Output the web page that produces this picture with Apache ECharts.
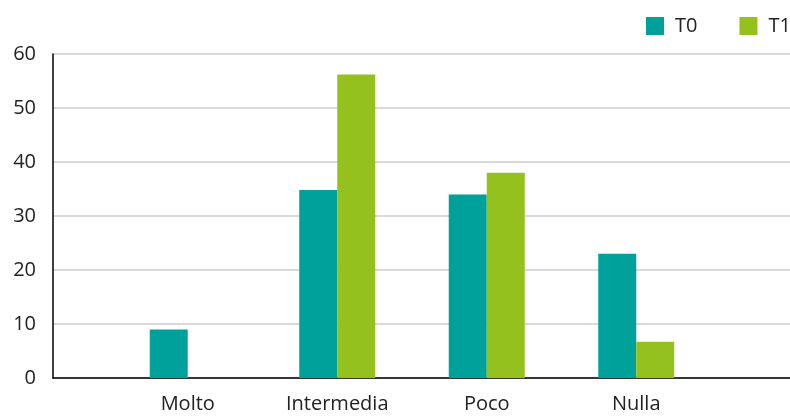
<!DOCTYPE html>
<html>
<head>
<meta charset="utf-8">
<script src="https://cdn.jsdelivr.net/npm/echarts@6/dist/echarts.min.js"></script>
<style>
  html, body { margin: 0; padding: 0; background: #fff; }
  #chart { width: 790px; height: 416px; }
</style>
</head>
<body>
<div id="chart"></div>
<script>
// dati
var categories = ["Molto", "Intermedia", "Poco", "Nulla"];
var seriesNames = ["T0", "T1"];
var valuesT0 = [9, 34.8, 34, 23];
var valuesT1 = [0, 56.2, 38, 6.7];

var font = "'Open Sans', 'Noto Sans', sans-serif";
var textColor = "#222";

var chart = echarts.init(document.getElementById("chart"));
var option = {
  animation: false,
  textStyle: { fontFamily: font },
  legend: {
    orient: "horizontal",
    left: 646,
    top: 16,
    width: 400,
    padding: 0,
    itemWidth: 18,
    itemHeight: 18,
    itemGap: 42,
    icon: "rect",
    textStyle: { fontSize: 20, color: textColor, fontFamily: font, padding: [0, 0, 0, 6] },
    data: seriesNames
  },
  grid: [
    // griglia visibile (assi e linee)
    { left: 53, right: 0, top: 54, bottom: 38, containLabel: false },
    // griglia delle barre
    { left: 113, right: 79, top: 54, bottom: 38, containLabel: false }
  ],
  xAxis: [
    {
      gridIndex: 0,
      type: "value",
      min: 0,
      max: 1,
      axisLine: { show: true, lineStyle: { color: "#000", width: 1.5 } },
      axisTick: { show: false },
      axisLabel: { show: false },
      splitLine: { show: false }
    },
    {
      gridIndex: 1,
      type: "category",
      data: categories,
      axisLine: { show: false },
      axisTick: { show: false },
      axisLabel: { color: textColor, fontSize: 20, margin: 16, fontFamily: font }
    }
  ],
  yAxis: [
    {
      gridIndex: 0,
      type: "value",
      min: 0,
      max: 60,
      interval: 10,
      axisLine: { show: true, lineStyle: { color: "#000", width: 1.5 } },
      axisTick: { show: false },
      axisLabel: { color: textColor, fontSize: 20, margin: 17, fontFamily: font },
      splitLine: { show: true, lineStyle: { color: "#d9d9d9", width: 2 } }
    },
    {
      gridIndex: 1,
      type: "value",
      min: 0,
      max: 60,
      interval: 10,
      show: false
    }
  ],
  series: [
    {
      name: seriesNames[0],
      type: "bar",
      xAxisIndex: 1,
      yAxisIndex: 1,
      barWidth: 38,
      barGap: "0%",
      itemStyle: { color: "#00a19a" },
      data: valuesT0
    },
    {
      name: seriesNames[1],
      type: "bar",
      xAxisIndex: 1,
      yAxisIndex: 1,
      barWidth: 38,
      barGap: "0%",
      itemStyle: { color: "#95c11f" },
      data: valuesT1
    }
  ]
};
chart.setOption(option);
</script>
</body>
</html>
